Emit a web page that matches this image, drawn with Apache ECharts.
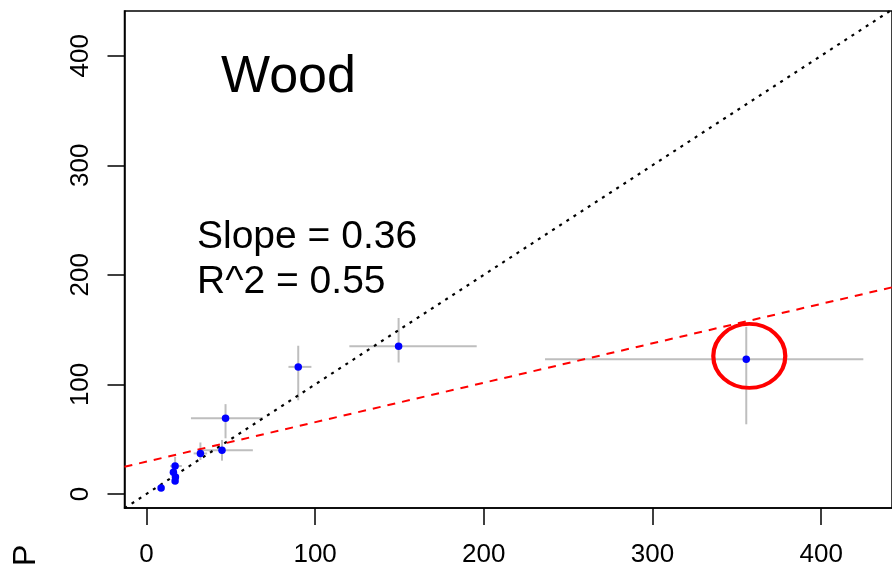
<!DOCTYPE html>
<html>
<head>
<meta charset="utf-8">
<script src="https://cdn.jsdelivr.net/npm/echarts@6/dist/echarts.min.js"></script>
<style>
html,body{margin:0;padding:0;background:#fff;overflow:hidden;}
#chart{width:892px;height:571px;}
</style>
</head>
<body>
<div id="chart"></div>
<script>
// Data
var xVals = [8.7, 17, 16, 17.2, 17, 32, 44.8, 46.9, 90, 149.5, 355.6];
var yVals = [5.5, 25.5, 19.8, 15.5, 11.9, 37, 40, 69, 116, 134.8, 122.9];
var xLow  = [8.7, 14, 15, 16, 16, 28, 32.4, 26.4, 84.2, 120.3, 236.3];
var xHigh = [8.7, 21, 17, 19, 18, 36, 63.1, 69, 97.8, 195.8, 425];
var yLow  = [5.5, 18, 18, 10, 9.8, 31, 30.4, 50.8, 85.5, 120, 63.6];
var yHigh = [5.5, 34, 22, 20, 14, 47, 49.3, 82, 135.3, 160.6, 152.6];
var tickValues = [0, 100, 200, 300, 400];
var slope = 0.36;
var intercept = 29.5;
var outlier = [357.4, 126];
var xRange = [-13, 442];
var yRange = [-12.8, 440.8];

var points = xVals.map(function (x, i) { return [x, yVals[i]]; });
var bars = xVals.map(function (x, i) { return [x, yVals[i], xLow[i], xHigh[i], yLow[i], yHigh[i]]; });
var oneToOne = [[xRange[0], xRange[0]], [xRange[1], xRange[1]]];
var fitLine = [[xRange[0], intercept + slope * xRange[0]], [xRange[1], intercept + slope * xRange[1]]];

var font = 'Liberation Sans, Arial, sans-serif';
var chart = echarts.init(document.getElementById('chart'));
chart.setOption({
  animation: false,
  backgroundColor: '#fff',
  grid: {left: 124.5, top: 11, right: -2, bottom: 63, show: true, borderColor: '#000', borderWidth: 1.5, containLabel: false},
  xAxis: {
    type: 'value', min: xRange[0], max: xRange[1],
    splitLine: {show: false},
    axisLine: {show: true, onZero: false, lineStyle: {color: '#000', width: 1.5}},
    axisTick: {show: true, inside: false, length: 17, lineStyle: {color: '#000', width: 1.5}, customValues: tickValues},
    axisLabel: {show: true, customValues: tickValues, margin: 34, color: '#000', fontSize: 26, fontFamily: font}
  },
  yAxis: {
    type: 'value', min: yRange[0], max: yRange[1],
    splitLine: {show: false},
    axisLine: {show: true, onZero: false, lineStyle: {color: '#000', width: 1.5}},
    axisTick: {show: true, inside: false, length: 17, lineStyle: {color: '#000', width: 1.5}, customValues: tickValues},
    axisLabel: {show: true, customValues: tickValues, rotate: 90, margin: 31, color: '#000', fontSize: 26, fontFamily: font}
  },
  series: [
    {
      type: 'custom', z: 2,
      data: bars,
      renderItem: function (params, api) {
        var xl = api.coord([api.value(2), api.value(1)]);
        var xh = api.coord([api.value(3), api.value(1)]);
        var yl = api.coord([api.value(0), api.value(4)]);
        var yh = api.coord([api.value(0), api.value(5)]);
        var st = {stroke: '#bebebe', lineWidth: 2};
        return {type: 'group', children: [
          {type: 'line', shape: {x1: xl[0], y1: xl[1], x2: xh[0], y2: xh[1]}, style: st},
          {type: 'line', shape: {x1: yl[0], y1: yl[1], x2: yh[0], y2: yh[1]}, style: st}
        ]};
      }
    },
    {
      type: 'line', z: 3, data: oneToOne, symbol: 'none', silent: true,
      lineStyle: {color: '#000', width: 2.2, type: [3, 5.5]}
    },
    {
      type: 'line', z: 3, data: fitLine, symbol: 'none', silent: true,
      lineStyle: {color: '#ff0000', width: 2, type: [8, 7]}
    },
    {
      type: 'scatter', z: 4, data: points, symbol: 'circle', symbolSize: 7.5,
      itemStyle: {color: '#0000ff', opacity: 1}
    },
    {
      type: 'scatter', z: 5, data: [outlier], symbol: 'circle', symbolSize: [72, 64],
      itemStyle: {color: 'rgba(0,0,0,0)', borderColor: '#ff0000', borderWidth: 4, opacity: 1}
    }
  ],
  graphic: [
    {type: 'text', x: 221, y: 78, style: {text: 'Wood', fontSize: 52, fontFamily: font, fill: '#000', verticalAlign: 'middle', align: 'left'}},
    {type: 'text', x: 197, y: 237, style: {text: 'Slope = 0.36', fontSize: 39, fontFamily: font, fill: '#000', verticalAlign: 'middle', align: 'left'}},
    {type: 'text', x: 197, y: 282, style: {text: 'R^2 = 0.55', fontSize: 39, fontFamily: font, fill: '#000', verticalAlign: 'middle', align: 'left'}},
    {type: 'text', x: 26, y: 566, rotation: Math.PI / 2, style: {text: 'P', fontSize: 32, fontFamily: font, fill: '#000', verticalAlign: 'middle', align: 'left'}}
  ]
});
</script>
</body>
</html>
